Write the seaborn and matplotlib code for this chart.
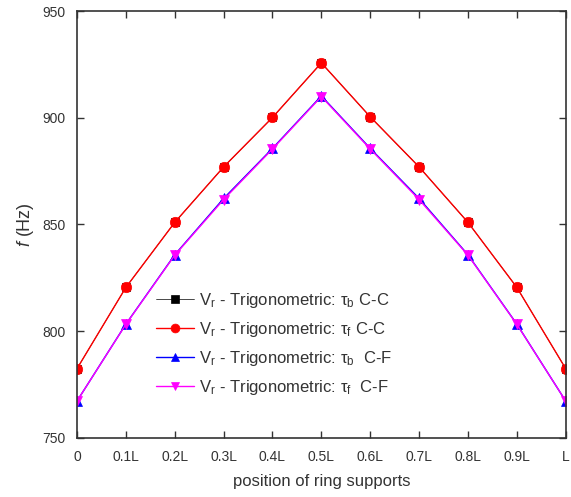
import matplotlib
matplotlib.use("Agg")
import matplotlib.pyplot as plt
import seaborn as sns
import pandas as pd

positions = [0.0, 0.1, 0.2, 0.3, 0.4, 0.5, 0.6, 0.7, 0.8, 0.9, 1.0]
tick_labels = ["0", "0.1L", "0.2L", "0.3L", "0.4L", "0.5L", "0.6L", "0.7L", "0.8L", "0.9L", "L"]
tau_b_CC = [782.4, 820.5, 851.0, 877.0, 900.2, 925.8, 900.5, 877.0, 851.0, 820.5, 782.4]
tau_f_CC = [782.4, 820.5, 851.0, 877.0, 900.2, 925.8, 900.5, 877.0, 851.0, 820.5, 782.4]
tau_b_CF = [767.2, 803.3, 835.8, 862.2, 885.7, 910.3, 885.7, 862.2, 835.8, 803.3, 767.2]
tau_f_CF = [767.2, 803.2, 835.6, 861.7, 885.4, 910.0, 885.4, 861.7, 835.6, 803.2, 767.2]

labels = ["V$_r$ - Trigonometric: τ$_b$ C-C",
          "V$_r$ - Trigonometric: τ$_f$ C-C",
          "V$_r$ - Trigonometric: τ$_b$  C-F",
          "V$_r$ - Trigonometric: τ$_f$  C-F"]
series = [tau_b_CC, tau_f_CC, tau_b_CF, tau_f_CF]
colors = ["black", "red", "blue", "magenta"]
markers = ["s", "o", "^", "v"]
msizes = [6, 7.5, 7.5, 7.5]
lwidths = [0.5, 1.0, 1.0, 1.0]

sns.set_style("ticks")
plt.rcParams["font.family"] = ["Liberation Sans", "DejaVu Sans"]
plt.rcParams["mathtext.fontset"] = "custom"
plt.rcParams["mathtext.rm"] = "Liberation Sans"
plt.rcParams["mathtext.it"] = "Liberation Sans:italic"
plt.rcParams["mathtext.sf"] = "Liberation Sans"
plt.rcParams["mathtext.default"] = "regular"

fig = plt.figure(figsize=(5.71, 4.97), dpi=100)
ax = fig.add_axes([0.1349, 0.1193, 0.8558, 0.8580])

for vals, lab, c, m, ms, lw in zip(series, labels, colors, markers, msizes, lwidths):
    df = pd.DataFrame({"pos": positions, "f": vals})
    sns.lineplot(data=df, x="pos", y="f", ax=ax, color=c, marker=m,
                 markersize=ms, markeredgecolor=c, markeredgewidth=0.5,
                 linewidth=lw, label=lab)

ax.set_xlim(0, 1)
ax.set_ylim(750, 950)
ax.set_xticks(positions)
ax.set_xticklabels(tick_labels)
ax.set_yticks([750, 800, 850, 900, 950])
ax.tick_params(direction="in", top=True, right=True, length=5, width=1,
               labelsize=10, labelcolor="#333333", color="#333333")
ax.tick_params(axis="x", labeltop=False, pad=9)
ax.tick_params(axis="y", labelright=False, pad=8)
for s in ax.spines.values():
    s.set_visible(True)
    s.set_color("#333333")
    s.set_linewidth(1.2)

ax.set_xlabel("position of ring supports", fontsize=12, color="#333333", labelpad=7)
ax.set_ylabel(r"$\mathit{f}$ (Hz)", fontsize=13, color="#333333", labelpad=5)

leg = ax.legend(loc="upper left", bbox_to_anchor=(0.148, 0.36), frameon=False,
                fontsize=12, handlelength=2.3, labelspacing=0.6,
                handletextpad=0.3, borderaxespad=0, markerscale=0.85)
for t in leg.get_texts():
    t.set_color("#333333")

fig.savefig("out.png", dpi=100)
